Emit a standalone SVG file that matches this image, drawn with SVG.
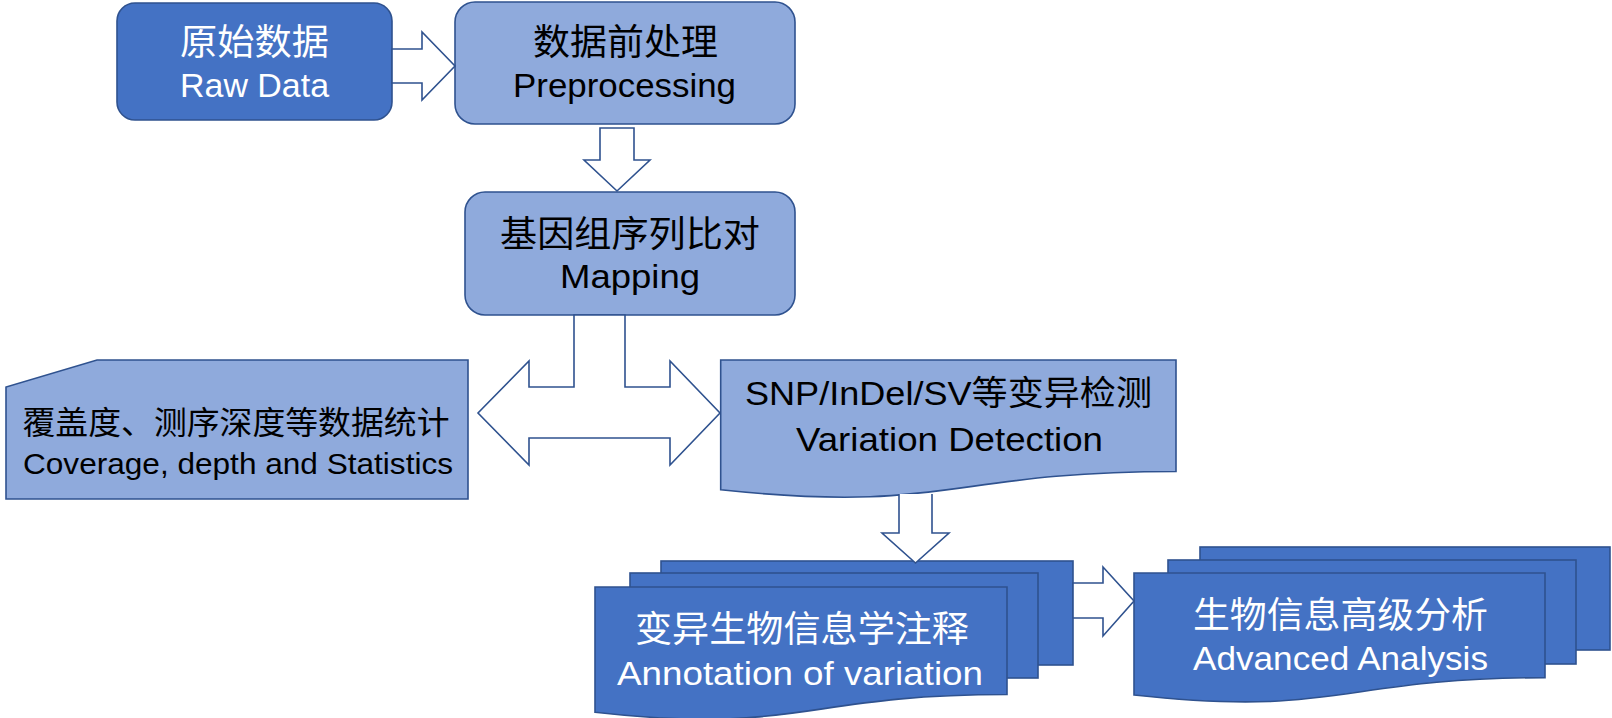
<svg xmlns="http://www.w3.org/2000/svg" width="1612" height="718" viewBox="0 0 1612 718">
<style>
.dark{fill:#4472C4;stroke:#2F528F;stroke-width:1.6}
.light{fill:#8FAADC;stroke:#2F528F;stroke-width:1.6}
.arr{fill:#FFFFFF;stroke:#2F528F;stroke-width:1.6;stroke-linejoin:miter}
text{font-family:"Noto Sans CJK SC","Noto Sans",sans-serif;text-anchor:middle}
.lat{font-family:"Liberation Sans","Noto Sans CJK SC",sans-serif}
.w{fill:#FFFFFF}
.b{fill:#000000}
.cn{font-size:36px}
.en{font-size:33px}
</style>
<rect width="1612" height="718" fill="#FFFFFF"/>
<g id="raw">
<rect class="dark" x="117" y="3" width="275" height="117" rx="18"/>
<text class="w cn" x="254.5" y="55" textLength="149" lengthAdjust="spacingAndGlyphs">原始数据</text>
<text class="w en lat" x="254.5" y="97" textLength="149" lengthAdjust="spacingAndGlyphs">Raw Data</text>
</g>
<g id="preprocessing">
<rect class="light" x="455" y="2" width="340" height="122" rx="20"/>
<text class="b cn" x="625.5" y="55" textLength="185" lengthAdjust="spacingAndGlyphs">数据前处理</text>
<text class="b en lat" x="624.5" y="97" textLength="223" lengthAdjust="spacingAndGlyphs">Preprocessing</text>
</g>
<g id="mapping">
<rect class="light" x="465" y="192" width="330" height="123" rx="20"/>
<text class="b cn" x="630" y="247" textLength="260" lengthAdjust="spacingAndGlyphs">基因组序列比对</text>
<text class="b en lat" x="630" y="288" textLength="140" lengthAdjust="spacingAndGlyphs">Mapping</text>
</g>
<g id="coverage">
<polygon class="light" points="97,360 468,360 468,499 6,499 6,387"/>
<text class="b" style="font-size:32px" x="236" y="434" textLength="427" lengthAdjust="spacingAndGlyphs">覆盖度、测序深度等数据统计</text>
<text class="b lat" style="font-size:30px" x="238" y="474" textLength="430" lengthAdjust="spacingAndGlyphs">Coverage, depth and Statistics</text>
</g>
<g id="variation">
<path class="light" d="M720.7,360 H1176 V471.5 C948.4,471.5 948.4,513.9 720.7,489.8 Z"/>
<text class="b lat" style="font-size:34px" x="948.5" y="405" textLength="407" lengthAdjust="spacingAndGlyphs">SNP/InDel/SV等变异检测</text>
<text class="b en lat" x="949.5" y="451" textLength="307" lengthAdjust="spacingAndGlyphs">Variation Detection</text>
</g>
<g id="annotation">
<rect class="dark" x="661" y="561" width="412" height="104"/>
<rect class="dark" x="630" y="573" width="408" height="105"/>
<path class="dark" d="M595,587 H1007 V694.5 C801,694.5 801,735.3 595,712.2 Z"/>
<text class="w cn" x="802" y="642" textLength="334" lengthAdjust="spacingAndGlyphs">变异生物信息学注释</text>
<text class="w en lat" x="800" y="685" textLength="366" lengthAdjust="spacingAndGlyphs">Annotation of variation</text>
</g>
<g id="advanced">
<rect class="dark" x="1200" y="547" width="410" height="103"/>
<rect class="dark" x="1168" y="560" width="408" height="104"/>
<path class="dark" d="M1134,573 H1545 V677.7 C1339.5,677.7 1339.5,717.6 1134,695 Z"/>
<text class="w cn" x="1340.5" y="628" textLength="295" lengthAdjust="spacingAndGlyphs">生物信息高级分析</text>
<text class="w en lat" x="1340.5" y="670" textLength="295" lengthAdjust="spacingAndGlyphs">Advanced Analysis</text>
</g>
<g id="connectors">
<polygon class="arr" points="392,49 422,49 422,32 455,66 422,100 422,83 392,83"/>
<polygon class="arr" points="600,128 634,128 634,160 650,160 617,191 584,160 600,160"/>
<polygon class="arr" points="574,315 574,387 529,387 529,361 478,413 529,465 529,438 670,438 670,465 720,413 670,361 670,387 625,387 625,315"/>
<path class="arr" d="M899,494 V533 H882 L915.5,563 L949,533 H932 V494"/>
<polygon class="arr" points="1073,583 1103,583 1103,567 1134,601 1103,636 1103,618 1073,618"/>
</g>
</svg>
